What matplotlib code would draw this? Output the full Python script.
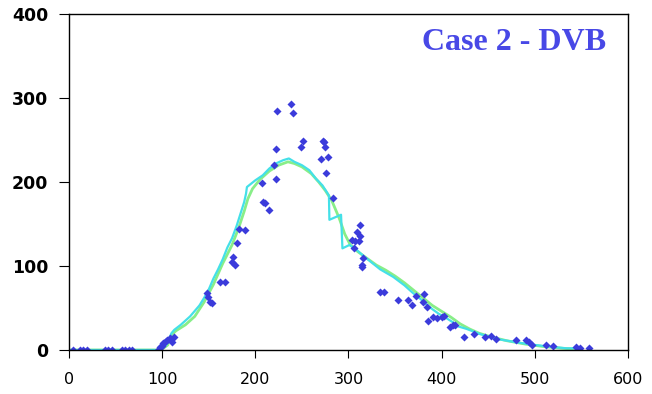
import numpy as np
from matplotlib import pyplot as plt

# measured points (diamonds)
obs_x = [4, 12, 15, 19, 39, 42, 46, 57, 60, 64, 68,
         96, 98, 100, 101, 103, 105, 108, 111, 113,
         148, 149, 151, 153, 162, 167, 175, 176, 178, 180, 182, 189,
         207, 208, 210, 215, 220, 222, 222, 223, 238, 240, 249, 251,
         270, 273, 274, 275, 276, 278, 283, 304, 306, 307, 309, 311, 312, 312, 314, 314, 316,
         334, 338, 353, 364, 368, 372, 380, 381, 384, 385, 391, 395, 400, 403, 409, 412, 414, 424, 435,
         447, 453, 458, 480, 491, 494, 497, 512, 520, 544, 549, 558]
obs_y = [0, 0, 0, 0, 0, 0, 0, 0, 0, 0, 0,
         0, 3, 5, 8, 10, 12, 14, 10, 16,
         68, 63, 57, 56, 81, 81, 105, 111, 101, 127, 144, 143,
         199, 176, 175, 167, 220, 239, 204, 285, 293, 282, 242, 249,
         227, 249, 248, 242, 211, 230, 181, 131, 121, 130, 140, 130, 149, 136, 101, 99, 110,
         69, 69, 60, 60, 54, 64, 57, 67, 51, 35, 39, 38, 39, 40, 27, 30, 30, 16, 19,
         15, 17, 13, 12, 12, 10, 6, 6, 5, 4, 2, 2]

# model curve 1 (cyan)
m1_x = [0, 95, 100, 105, 110, 113, 120, 130, 140, 145, 150, 155, 160, 165, 170, 175, 180, 184, 188,
        190, 191, 200, 208, 215, 222, 230, 236, 242, 250, 258, 265, 272, 279, 279.5, 292, 293.5, 301,
        308, 316, 325, 334, 348, 360, 369, 378, 387, 397, 405, 412, 418, 427, 441, 460, 481, 500, 516, 534, 541]
m1_y = [0, 0, 2, 7, 20, 24, 30, 40, 53, 62, 72, 85, 96, 108, 122, 133, 148, 162, 176,
        186, 194, 202, 208, 216, 222, 226, 228, 224, 220, 214, 204, 196, 184, 155, 161, 121, 125,
        120, 112, 104, 96, 87, 77, 68, 60, 51, 43, 38, 33, 28, 25, 19, 13, 9, 6, 4, 2, 2]

# model curve 2 (green)
m2_x = [0, 95, 100, 106, 110, 115, 125, 135, 145, 155, 165, 175, 182, 188, 192, 197, 205, 215, 225,
        235, 242, 250, 260, 268, 275, 282, 290, 296, 302, 310, 320, 330, 340, 350, 360, 370, 380, 390,
        400, 410, 420, 430, 440, 455, 470, 490, 510, 530, 545]
m2_y = [0, 0, 1, 6, 18, 23, 30, 40, 57, 78, 103, 125, 145, 165, 180, 192, 203, 213, 220,
        224, 222, 218, 210, 200, 190, 178, 157, 138, 125, 117, 109, 101, 95, 88, 80, 71, 62, 53,
        46, 39, 31, 25, 20, 15, 11, 7, 4, 2, 1]

fig = plt.figure(figsize=(6.52, 3.94), dpi=100)
ax = fig.add_axes([0.1058, 0.1117, 0.8574, 0.8528])

ax.plot(m2_x, m2_y, color='#88ee88', lw=2)
ax.plot(m1_x, m1_y, color='#44e0e8', lw=1.6)
ax.plot(obs_x, obs_y, 'D', color='#3b3bdb', ms=4.2, mec='none')

ax.set_xlim(0, 600)
ax.set_ylim(0, 400)
ax.set_xticks(np.arange(0, 601, 100))
ax.set_yticks(np.arange(0, 401, 100))
ax.tick_params(axis='y', direction='out', length=7, labelsize=12.5, pad=8)
ax.tick_params(axis='x', direction='out', length=6, labelsize=11.5, pad=10)
for lab in ax.get_yticklabels():
    lab.set_fontweight('bold')
for s in ax.spines.values():
    s.set_linewidth(1)

ax.text(0.96, 0.914, 'Case 2 - DVB', transform=ax.transAxes, ha='right', va='center',
        fontsize=23, fontweight='bold', family='Liberation Serif', color='#4848e6')

fig.savefig('out.png', dpi=100)
